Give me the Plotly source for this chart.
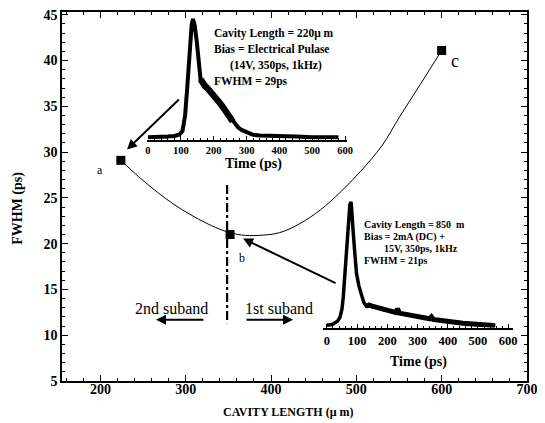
import plotly.graph_objects as go

# ---------------- data ----------------
point_cavity = [224, 352, 600]
point_fwhm = [29.1, 21.0, 41.1]
point_labels = ["a", "b", "c"]

curve_cavity = [224, 245, 267, 286, 305, 325, 345, 365, 385, 410, 434, 458,
                481, 505, 530, 551, 575, 600]
curve_fwhm = [29.1, 27.3, 25.6, 24.3, 23.2, 22.2, 21.4, 20.95, 20.9, 21.2, 22.2,
              23.7, 25.6, 27.9, 30.7, 33.9, 37.4, 41.1]

# pulse for point a (220 um)
time_a = [0, 20, 40, 60, 80, 95, 105, 113, 120, 127, 133, 137, 142, 149, 155,
          160, 168, 175, 183, 190, 198, 205, 213, 220, 228, 235, 243, 250, 258,
          265, 275, 285, 300, 320, 340, 370, 400, 450, 500, 550, 580]
int_a = [0.02, 0.02, 0.025, 0.025, 0.03, 0.04, 0.07, 0.2, 0.45, 0.75, 0.95, 1.0,
         0.95, 0.8, 0.6,
         0.50, 0.46, 0.44, 0.42, 0.40, 0.37, 0.35, 0.32, 0.30, 0.27, 0.24, 0.21,
         0.18, 0.15, 0.13, 0.10, 0.08, 0.06, 0.04, 0.035, 0.03, 0.025, 0.025,
         0.02, 0.02, 0.02]

# pulse for point b (350 um)
time_b = [0, 10, 21, 35, 43, 50, 54, 60, 65, 71, 76, 80, 84, 87, 92, 98, 106,
          115, 122, 131, 140, 150, 160, 170, 180, 190, 200, 210, 220, 228, 234,
          240, 250, 260, 270, 280, 290, 300, 310, 320, 330, 340, 346, 352, 360,
          370, 380, 390, 400, 410, 420, 430, 440, 450, 460, 470, 480, 490, 500,
          510, 520, 530, 540, 550, 557]
int_b = [0.02, 0.02, 0.03, 0.05, 0.08, 0.15, 0.24, 0.45, 0.63, 0.85, 0.98, 1.0,
         0.9, 0.76, 0.6, 0.43, 0.33, 0.25, 0.2, 0.17, 0.18, 0.17, 0.165, 0.155,
         0.15, 0.14, 0.14, 0.13, 0.125, 0.12, 0.15, 0.115, 0.11, 0.105, 0.10,
         0.095, 0.09, 0.085, 0.08, 0.078, 0.072, 0.07, 0.085, 0.065, 0.062,
         0.058, 0.055, 0.052, 0.05, 0.047, 0.044, 0.041, 0.038, 0.035, 0.033,
         0.03, 0.028, 0.026, 0.024, 0.022, 0.02, 0.019, 0.018, 0.016, 0.015]

main_xticks = [200, 300, 400, 500, 600, 700]
main_yticks = [5, 10, 15, 20, 25, 30, 35, 40, 45]
time_ticks = [0, 100, 200, 300, 400, 500, 600]

text_a = ["Cavity Length = 220μ m", "Bias = Electrical Pulase",
          "(14V, 350ps, 1kHz)", "FWHM = 29ps"]
text_b = ["Cavity Length = 850  m", "Bias = 2mA (DC) +",
          "15V, 350ps, 1kHz", "FWHM = 21ps"]

# ---------------- figure ----------------
SERIF = "Liberation Serif, Times New Roman, serif"
OFF = 8                      # default page body margin of the browser
W, H = 545 - OFF, 423 - OFF
L, R, T, B = 62 - OFF, 18, 0, 42
PW, PH = W - L - R, H - T - B


def px(xp):
    """page x pixel -> paper fraction"""
    return (xp - OFF - L) / PW


def py(yp):
    """page y pixel -> paper fraction"""
    return (H - B - (yp - OFF)) / PH


fig = go.Figure()

fig.add_trace(go.Scatter(x=curve_cavity, y=curve_fwhm, mode="lines",
                         line=dict(color="black", width=1, shape="spline"),
                         showlegend=False, hoverinfo="skip"))
fig.add_trace(go.Scatter(x=point_cavity, y=point_fwhm, mode="markers",
                         marker=dict(symbol="square", size=9, color="black"),
                         showlegend=False))
# dash-dot separator
fig.add_trace(go.Scatter(x=[348.5, 348.5], y=[26.4, 11.3], mode="lines",
                         line=dict(color="black", width=2.2, dash="dashdot"),
                         showlegend=False, hoverinfo="skip"))

fig.add_trace(go.Scatter(x=time_a, y=int_a, mode="lines", xaxis="x2", yaxis="y2",
                         line=dict(color="black", width=4),
                         showlegend=False))
# noisy (thick) part of the tail of pulse a
fig.add_trace(go.Scatter(x=time_a[15:29], y=int_a[15:29], mode="lines",
                         xaxis="x2", yaxis="y2",
                         line=dict(color="black", width=6.5),
                         showlegend=False))
fig.add_trace(go.Scatter(x=time_b, y=int_b, mode="lines", xaxis="x3", yaxis="y3",
                         line=dict(color="black", width=3.5),
                         showlegend=False))
fig.add_trace(go.Scatter(x=time_b[19:], y=int_b[19:], mode="lines",
                         xaxis="x3", yaxis="y3",
                         line=dict(color="black", width=5),
                         showlegend=False))

tick_font = dict(family=SERIF, size=14, color="black", weight="bold")

fig.update_layout(
    width=W, height=H,
    margin=dict(l=L, r=R, t=T, b=B),
    paper_bgcolor="white", plot_bgcolor="rgba(0,0,0,0)",
    font=dict(family=SERIF, color="black"),
    xaxis=dict(range=[155, 700], tickvals=main_xticks, showgrid=False,
               zeroline=False, showline=True, linecolor="black", linewidth=1.5,
               mirror="ticks", ticks="inside", ticklen=6, tickwidth=1.2,
               tickcolor="black", ticklabeloverflow="allow",
               ticklabelstandoff=-6,
               minor=dict(dtick=20, tick0=200, ticks="inside", ticklen=3,
                          tickcolor="black", showgrid=False),
               tickfont=tick_font, domain=[0, 1]),
    yaxis=dict(range=[5, 45.3], tickvals=main_yticks, showgrid=False,
               zeroline=False, showline=True, linecolor="black", linewidth=1.5,
               mirror="ticks", ticks="inside", ticklen=6, tickwidth=1.2,
               tickcolor="black", ticklabeloverflow="allow",
               minor=dict(dtick=1, tick0=5, ticks="inside", ticklen=3,
                          tickcolor="black", showgrid=False),
               tickfont=tick_font, domain=[0, 1]),
    xaxis2=dict(domain=[px(147), px(347)], anchor="y2", range=[-3, 606],
                tickvals=time_ticks, showgrid=False, zeroline=False,
                showline=True, linecolor="black", linewidth=2,
                ticks="inside", ticklen=4, tickcolor="black",
                minor=dict(dtick=20, tick0=0, ticks="inside", ticklen=2,
                           tickcolor="black", showgrid=False),
                tickfont=dict(family=SERIF, size=10.5, color="black", weight="bold")),
    yaxis2=dict(domain=[py(137), py(137) + (py(15) - py(137)) * 1.03],
                anchor="x2", range=[0, 1.03], visible=False),
    xaxis3=dict(domain=[px(323), px(513)], anchor="y3", range=[-13, 616],
                tickvals=time_ticks, showgrid=False, zeroline=False,
                showline=True, linecolor="black", linewidth=2,
                ticks="inside", ticklen=4, tickcolor="black",
                minor=dict(dtick=20, tick0=0, ticks="inside", ticklen=2,
                           tickcolor="black", showgrid=False),
                tickfont=dict(family=SERIF, size=12.5, color="black", weight="bold")),
    yaxis3=dict(domain=[py(327), py(327) + (py(200) - py(327)) * 1.03],
                anchor="x3", range=[0, 1.03], visible=False),
)

ann = []


def label(text, x, y, size, xref="paper", yref="paper", xanchor="center",
          angle=0):
    ann.append(dict(text=text, x=x, y=y, xref=xref, yref=yref,
                    xanchor=xanchor, yanchor="middle", showarrow=False,
                    textangle=angle, font=dict(family=SERIF, size=size)))


# axis titles
label("<b>CAVITY LENGTH (μ m)</b>", px(288), py(412), 12)
label("<b>FWHM (ps)</b>", px(18), py(207), 14, angle=-90)
label("<b>Time (ps)</b>", px(253), py(162), 14)
label("<b>Time (ps)</b>", px(418), py(362), 14)

# point labels
label_pos = {"a": (199.5, 28.0, 12), "b": (366, 18.4, 12), "c": (616, 40.0, 18)}
for lab in point_labels:
    lx, ly, fs = label_pos[lab]
    label(lab, lx, ly, fs, xref="x", yref="y")

# inset texts
ya = [42.92, 41.3, 39.47, 37.74]
xa = [330.8, 330.8, 349.6, 330.8]
for t, xx, yy in zip(text_a, xa, ya):
    label("<b>" + t + "</b>", xx, yy, 11.5, xref="x", yref="y", xanchor="left")
yb = [22.07, 20.78, 19.48, 18.18]
xb = [506.7, 506.7, 530.2, 506.7]
for t, xx, yy in zip(text_b, xb, yb):
    label("<b>" + t + "</b>", xx, yy, 10, xref="x", yref="y", xanchor="left")


def arrow(x, y, ax, ay):
    ann.append(dict(x=x, y=y, ax=ax, ay=ay, xref="x", yref="y",
                    axref="x", ayref="y", showarrow=True, arrowhead=2,
                    arrowsize=1, arrowwidth=2, arrowcolor="black", text=""))


# arrows pointing at a and b
arrow(231.2, 30.28, 293.8, 35.9)
arrow(367.2, 20.56, 477.4, 15.6)

# subband arrows and labels
arrow(265.2, 11.7, 322.6, 11.7)
arrow(425.8, 11.7, 369.5, 11.7)
label("2nd suband", 283, 12.9, 16, xref="x", yref="y")
label("1st suband", 409.4, 12.9, 16, xref="x", yref="y")

fig.update_layout(annotations=ann)

fig.write_html("out.html")
